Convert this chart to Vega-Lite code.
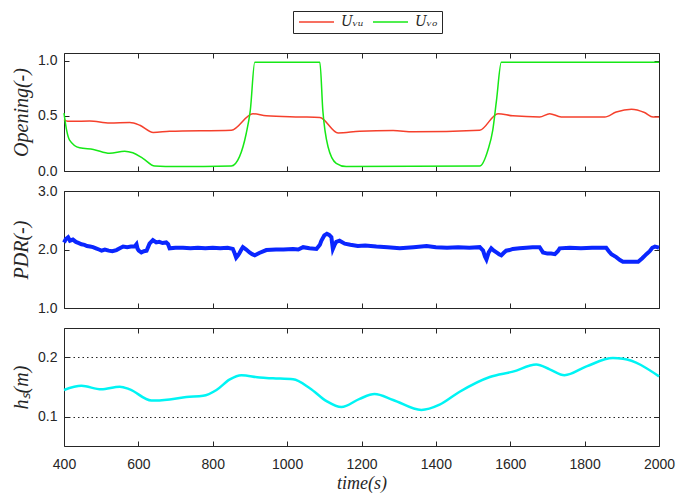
{
  "$schema": "https://vega.github.io/schema/vega-lite/v6.json",
  "autosize": {"type": "pad"},
  "padding": {"left": 11, "top": 10, "right": 19, "bottom": 4},
  "bounds": "flush",
  "spacing": 20,
  "background": "white",
  "config": {
    "view": {"stroke": "#262626", "strokeWidth": 1},
    "axis": {
      "domain": false, "grid": false, "tickSize": -5, "tickColor": "#262626", "tickWidth": 1,
      "labelFont": "Liberation Sans", "labelFontSize": 14, "labelColor": "#262626", "labelPadding": 12,
      "labelFlush": false,
      "titleFont": "Liberation Serif", "titleFontStyle": "italic", "titleFontWeight": "normal",
      "titleFontSize": 20, "titleColor": "#262626", "titlePadding": 6
    }
  },
  "datasets": {
    "opening": [
      {"t": 400, "v": 0.465, "series": "Uᵥᵤ"},
      {"t": 410, "v": 0.45, "series": "Uᵥᵤ"},
      {"t": 424, "v": 0.45, "series": "Uᵥᵤ"},
      {"t": 469, "v": 0.453, "series": "Uᵥᵤ"},
      {"t": 523, "v": 0.435, "series": "Uᵥᵤ"},
      {"t": 577, "v": 0.44, "series": "Uᵥᵤ"},
      {"t": 604, "v": 0.415, "series": "Uᵥᵤ"},
      {"t": 640, "v": 0.35, "series": "Uᵥᵤ"},
      {"t": 684, "v": 0.36, "series": "Uᵥᵤ"},
      {"t": 850, "v": 0.37, "series": "Uᵥᵤ"},
      {"t": 908, "v": 0.52, "series": "Uᵥᵤ"},
      {"t": 944, "v": 0.50, "series": "Uᵥᵤ"},
      {"t": 1034, "v": 0.49, "series": "Uᵥᵤ"},
      {"t": 1088, "v": 0.485, "series": "Uᵥᵤ"},
      {"t": 1137, "v": 0.345, "series": "Uᵥᵤ"},
      {"t": 1195, "v": 0.36, "series": "Uᵥᵤ"},
      {"t": 1285, "v": 0.367, "series": "Uᵥᵤ"},
      {"t": 1339, "v": 0.355, "series": "Uᵥᵤ"},
      {"t": 1518, "v": 0.37, "series": "Uᵥᵤ"},
      {"t": 1567, "v": 0.52, "series": "Uᵥᵤ"},
      {"t": 1607, "v": 0.50, "series": "Uᵥᵤ"},
      {"t": 1679, "v": 0.49, "series": "Uᵥᵤ"},
      {"t": 1706, "v": 0.52, "series": "Uᵥᵤ"},
      {"t": 1737, "v": 0.49, "series": "Uᵥᵤ"},
      {"t": 1854, "v": 0.49, "series": "Uᵥᵤ"},
      {"t": 1885, "v": 0.535, "series": "Uᵥᵤ"},
      {"t": 1926, "v": 0.56, "series": "Uᵥᵤ"},
      {"t": 1961, "v": 0.53, "series": "Uᵥᵤ"},
      {"t": 1984, "v": 0.49, "series": "Uᵥᵤ"},
      {"t": 2000, "v": 0.49, "series": "Uᵥᵤ"},
      {"t": 400, "v": 0.525, "series": "Uᵥₒ"},
      {"t": 407, "v": 0.37, "series": "Uᵥₒ"},
      {"t": 415, "v": 0.28, "series": "Uᵥₒ"},
      {"t": 442, "v": 0.21, "series": "Uᵥₒ"},
      {"t": 479, "v": 0.195, "series": "Uᵥₒ"},
      {"t": 523, "v": 0.16, "series": "Uᵥₒ"},
      {"t": 563, "v": 0.18, "series": "Uᵥₒ"},
      {"t": 585, "v": 0.165, "series": "Uᵥₒ"},
      {"t": 612, "v": 0.115, "series": "Uᵥₒ"},
      {"t": 644, "v": 0.045, "series": "Uᵥₒ"},
      {"t": 702, "v": 0.04, "series": "Uᵥₒ"},
      {"t": 850, "v": 0.045, "series": "Uᵥₒ"},
      {"t": 872, "v": 0.13, "series": "Uᵥₒ"},
      {"t": 890, "v": 0.34, "series": "Uᵥₒ"},
      {"t": 901, "v": 0.55, "series": "Uᵥₒ"},
      {"t": 913, "v": 0.985, "series": "Uᵥₒ"},
      {"t": 1088, "v": 0.985, "series": "Uᵥₒ"},
      {"t": 1096, "v": 0.55, "series": "Uᵥₒ"},
      {"t": 1110, "v": 0.22, "series": "Uᵥₒ"},
      {"t": 1132, "v": 0.07, "series": "Uᵥₒ"},
      {"t": 1159, "v": 0.04, "series": "Uᵥₒ"},
      {"t": 1518, "v": 0.045, "series": "Uᵥₒ"},
      {"t": 1540, "v": 0.19, "series": "Uᵥₒ"},
      {"t": 1553, "v": 0.37, "series": "Uᵥₒ"},
      {"t": 1563, "v": 0.64, "series": "Uᵥₒ"},
      {"t": 1576, "v": 0.985, "series": "Uᵥₒ"},
      {"t": 2000, "v": 0.985, "series": "Uᵥₒ"}
    ],
    "pdr": [
      {"t": 400, "v": 2.12}, {"t": 405, "v": 2.18}, {"t": 411, "v": 2.21}, {"t": 416, "v": 2.15},
      {"t": 424, "v": 2.17}, {"t": 432, "v": 2.13}, {"t": 440, "v": 2.11}, {"t": 447, "v": 2.09},
      {"t": 455, "v": 2.08}, {"t": 462, "v": 2.06}, {"t": 470, "v": 2.05}, {"t": 478, "v": 2.04},
      {"t": 486, "v": 2.02}, {"t": 494, "v": 2.0}, {"t": 501, "v": 1.98}, {"t": 510, "v": 2.0},
      {"t": 520, "v": 1.98}, {"t": 530, "v": 1.97}, {"t": 541, "v": 1.99}, {"t": 550, "v": 2.02},
      {"t": 559, "v": 2.05}, {"t": 570, "v": 2.04}, {"t": 580, "v": 2.05}, {"t": 590, "v": 2.05},
      {"t": 595, "v": 2.09}, {"t": 598, "v": 2.01}, {"t": 601, "v": 1.98}, {"t": 608, "v": 1.95},
      {"t": 615, "v": 1.97}, {"t": 622, "v": 1.98}, {"t": 630, "v": 2.1}, {"t": 639, "v": 2.16},
      {"t": 648, "v": 2.12}, {"t": 656, "v": 2.13}, {"t": 665, "v": 2.11}, {"t": 675, "v": 2.12},
      {"t": 680, "v": 2.09}, {"t": 684, "v": 2.02}, {"t": 700, "v": 2.03}, {"t": 720, "v": 2.03},
      {"t": 740, "v": 2.02}, {"t": 760, "v": 2.03}, {"t": 780, "v": 2.02}, {"t": 800, "v": 2.03},
      {"t": 820, "v": 2.02}, {"t": 840, "v": 2.03}, {"t": 854, "v": 2.01}, {"t": 858, "v": 1.95},
      {"t": 863, "v": 1.86}, {"t": 868, "v": 1.9}, {"t": 872, "v": 1.94}, {"t": 877, "v": 2.0},
      {"t": 881, "v": 2.04}, {"t": 890, "v": 2.0}, {"t": 899, "v": 1.95}, {"t": 906, "v": 1.92},
      {"t": 913, "v": 1.9}, {"t": 925, "v": 1.94}, {"t": 944, "v": 1.99}, {"t": 970, "v": 2.0},
      {"t": 990, "v": 2.0}, {"t": 1016, "v": 2.01}, {"t": 1030, "v": 2.0}, {"t": 1043, "v": 2.04},
      {"t": 1060, "v": 2.02}, {"t": 1079, "v": 2.01}, {"t": 1088, "v": 2.08}, {"t": 1092, "v": 2.15},
      {"t": 1100, "v": 2.24}, {"t": 1107, "v": 2.27}, {"t": 1113, "v": 2.25}, {"t": 1119, "v": 2.21},
      {"t": 1123, "v": 2.01}, {"t": 1127, "v": 2.07}, {"t": 1132, "v": 2.13}, {"t": 1141, "v": 2.15},
      {"t": 1155, "v": 2.1}, {"t": 1170, "v": 2.08}, {"t": 1190, "v": 2.06}, {"t": 1210, "v": 2.07},
      {"t": 1240, "v": 2.05}, {"t": 1270, "v": 2.04}, {"t": 1303, "v": 2.02}, {"t": 1340, "v": 2.04},
      {"t": 1375, "v": 2.06}, {"t": 1400, "v": 2.04}, {"t": 1430, "v": 2.03}, {"t": 1460, "v": 2.04},
      {"t": 1490, "v": 2.03}, {"t": 1518, "v": 2.04}, {"t": 1527, "v": 1.98}, {"t": 1532, "v": 1.88},
      {"t": 1536, "v": 1.83}, {"t": 1542, "v": 1.95}, {"t": 1549, "v": 2.02}, {"t": 1556, "v": 1.98},
      {"t": 1563, "v": 1.95}, {"t": 1570, "v": 1.92}, {"t": 1576, "v": 1.9}, {"t": 1582, "v": 1.94},
      {"t": 1589, "v": 1.98}, {"t": 1598, "v": 1.99}, {"t": 1607, "v": 2.01}, {"t": 1625, "v": 2.02},
      {"t": 1643, "v": 2.03}, {"t": 1660, "v": 2.04}, {"t": 1679, "v": 2.04}, {"t": 1683, "v": 2.0},
      {"t": 1688, "v": 1.95}, {"t": 1700, "v": 1.93}, {"t": 1710, "v": 1.93}, {"t": 1720, "v": 1.92},
      {"t": 1728, "v": 1.97}, {"t": 1733, "v": 2.02}, {"t": 1760, "v": 2.03}, {"t": 1790, "v": 2.02},
      {"t": 1820, "v": 2.03}, {"t": 1840, "v": 2.03}, {"t": 1858, "v": 2.03}, {"t": 1865, "v": 1.97},
      {"t": 1872, "v": 1.92}, {"t": 1885, "v": 1.87}, {"t": 1895, "v": 1.82}, {"t": 1903, "v": 1.79},
      {"t": 1920, "v": 1.79}, {"t": 1944, "v": 1.79}, {"t": 1955, "v": 1.85}, {"t": 1966, "v": 1.92},
      {"t": 1975, "v": 1.97}, {"t": 1982, "v": 2.03}, {"t": 1989, "v": 2.05}, {"t": 1995, "v": 2.04},
      {"t": 2000, "v": 2.03}
    ],
    "hs": [
      {"t": 400, "v": 0.145}, {"t": 447, "v": 0.152}, {"t": 500, "v": 0.146}, {"t": 550, "v": 0.1505},
      {"t": 577, "v": 0.146}, {"t": 635, "v": 0.127}, {"t": 684, "v": 0.129}, {"t": 729, "v": 0.133},
      {"t": 774, "v": 0.135}, {"t": 810, "v": 0.145}, {"t": 846, "v": 0.163}, {"t": 877, "v": 0.17},
      {"t": 926, "v": 0.166}, {"t": 962, "v": 0.1647}, {"t": 1016, "v": 0.163}, {"t": 1061, "v": 0.148},
      {"t": 1106, "v": 0.126}, {"t": 1146, "v": 0.116}, {"t": 1195, "v": 0.13}, {"t": 1235, "v": 0.138},
      {"t": 1285, "v": 0.128}, {"t": 1361, "v": 0.111}, {"t": 1410, "v": 0.12}, {"t": 1464, "v": 0.142},
      {"t": 1545, "v": 0.167}, {"t": 1607, "v": 0.176}, {"t": 1670, "v": 0.188}, {"t": 1706, "v": 0.18},
      {"t": 1746, "v": 0.17}, {"t": 1805, "v": 0.185}, {"t": 1876, "v": 0.199}, {"t": 1903, "v": 0.198},
      {"t": 2000, "v": 0.168}
    ]
  },
  "vconcat": [
    {
      "width": 595, "height": 118,
      "data": {"name": "opening"},
      "layer": [
        {
          "mark": {"type": "line", "strokeWidth": 1.5, "interpolate": "monotone"},
          "encoding": {
            "x": {"field": "t", "type": "quantitative", "scale": {"domain": [400, 2000], "nice": false},
                  "axis": {"labels": false, "title": null, "values": [400, 600, 800, 1000, 1200, 1400, 1600, 1800, 2000]}},
            "y": {"field": "v", "type": "quantitative", "scale": {"domain": [0, 1.07], "nice": false, "zero": false},
                  "axis": {"values": [0, 0.5, 1], "format": ".1f", "title": "Opening(-)"}},
            "color": {"field": "series", "type": "nominal",
                      "scale": {"domain": ["Uᵥᵤ", "Uᵥₒ"], "range": ["#f5402c", "#16e816"]},
                      "legend": {"orient": "none", "legendX": 229, "legendY": -42, "direction": "horizontal",
                                 "title": null, "symbolType": "M-1,0H6", "symbolSize": 100, "symbolStrokeWidth": 1.5,
                                 "labelFont": "DejaVu Serif", "labelFontStyle": "italic", "labelFontSize": 14,
                                 "labelColor": "#262626", "strokeColor": "#262626", "padding": 4,
                                 "columnPadding": 6, "labelOffset": 30}}
          }
        },
        {
          "mark": {"type": "line", "opacity": 0},
          "encoding": {
            "x": {"field": "t", "type": "quantitative",
                  "axis": {"orient": "top", "labels": false, "title": null, "values": [400, 600, 800, 1000, 1200, 1400, 1600, 1800, 2000]}},
            "y": {"field": "v", "type": "quantitative",
                  "axis": {"orient": "right", "labels": false, "title": null, "values": [0, 0.5, 1]}},
            "detail": {"field": "series"}
          }
        }
      ],
      "resolve": {"axis": {"x": "independent", "y": "independent"}}
    },
    {
      "width": 595, "height": 117,
      "data": {"name": "pdr"},
      "layer": [
        {
          "mark": {"type": "line", "strokeWidth": 4, "color": "#0a26ff"},
          "encoding": {
            "x": {"field": "t", "type": "quantitative", "scale": {"domain": [400, 2000], "nice": false},
                  "axis": {"labels": false, "title": null, "values": [400, 600, 800, 1000, 1200, 1400, 1600, 1800, 2000]}},
            "y": {"field": "v", "type": "quantitative", "scale": {"domain": [1, 3], "nice": false, "zero": false},
                  "axis": {"values": [1, 2, 3], "format": ".1f", "title": "PDR(-)"}}
          }
        },
        {
          "mark": {"type": "line", "opacity": 0},
          "encoding": {
            "x": {"field": "t", "type": "quantitative",
                  "axis": {"orient": "top", "labels": false, "title": null, "values": [400, 600, 800, 1000, 1200, 1400, 1600, 1800, 2000]}},
            "y": {"field": "v", "type": "quantitative",
                  "axis": {"orient": "right", "labels": false, "title": null, "values": [1, 2, 3]}}
          }
        }
      ],
      "resolve": {"axis": {"x": "independent", "y": "independent"}}
    },
    {
      "width": 595, "height": 118,
      "data": {"name": "hs"},
      "layer": [
        {
          "mark": {"type": "line", "strokeWidth": 2.5, "color": "#00f4f4", "interpolate": "monotone"},
          "encoding": {
            "x": {"field": "t", "type": "quantitative", "scale": {"domain": [400, 2000], "nice": false},
                  "axis": {"title": "time(s)", "format": "d", "labelPadding": 16, "titleFontSize": 18, "titlePadding": 3,
                           "values": [400, 600, 800, 1000, 1200, 1400, 1600, 1800, 2000]}},
            "y": {"field": "v", "type": "quantitative", "scale": {"domain": [0.05, 0.25], "nice": false, "zero": false},
                  "axis": {"values": [0.1, 0.2], "format": ".1f", "title": "hₛ(m)",
                           "grid": true, "gridDash": [1.5, 3], "gridColor": "#262626", "gridWidth": 1}}
          }
        },
        {
          "mark": {"type": "line", "opacity": 0},
          "encoding": {
            "x": {"field": "t", "type": "quantitative",
                  "axis": {"orient": "top", "labels": false, "title": null, "values": [400, 600, 800, 1000, 1200, 1400, 1600, 1800, 2000]}},
            "y": {"field": "v", "type": "quantitative",
                  "axis": {"orient": "right", "labels": false, "title": null, "values": [0.1, 0.2]}}
          }
        }
      ],
      "resolve": {"axis": {"x": "independent", "y": "independent"}}
    }
  ]
}
